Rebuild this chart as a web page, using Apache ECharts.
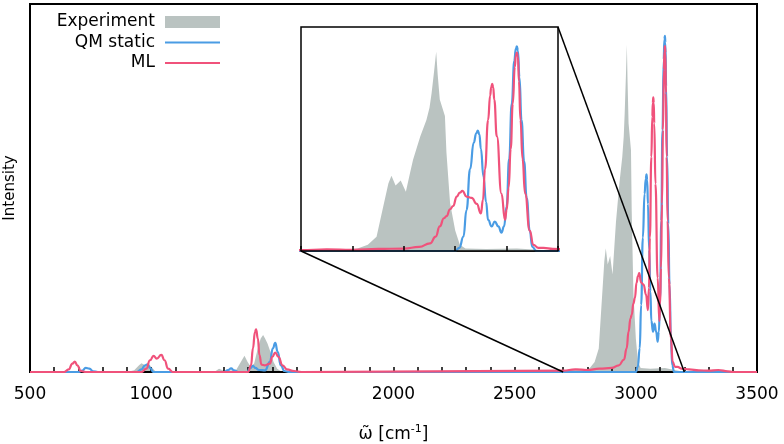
<!DOCTYPE html>
<html>
<head>
<meta charset="utf-8">
<script src="https://cdn.jsdelivr.net/npm/echarts@6/dist/echarts.min.js"></script>
<style>
  html, body { margin: 0; padding: 0; background: #fff; }
  #chart { width: 784px; height: 444px; }
</style>
</head>
<body>
<div id="chart"></div>
<script>
// ===== data (wavenumber / intensity) =====
const expWn = [500, 900, 930, 950, 960, 975, 990, 1005, 1020, 1260, 1280, 1300, 1350, 1370, 1385, 1398, 1410, 1425, 1440, 1452, 1462, 1470, 1480, 1492, 1505, 1520, 1540,
  2690, 2720, 2760, 2790, 2810, 2830, 2847, 2860, 2870, 2876, 2884, 2894, 2904, 2912, 2918, 2932, 2944, 2950, 2954, 2959, 2963, 2966, 2970, 2980, 2983, 2990, 3000, 3009, 3020, 3060, 3120, 3160, 3200, 3500]
const expI = [0, 0, 0.005, 0.02, 0.026, 0.02, 0.024, 0.012, 0, 0, 0.01, 0.004, 0.005, 0.03, 0.048, 0.03, 0.016, 0.025, 0.07, 0.1, 0.11, 0.1, 0.085, 0.06, 0.03, 0.01, 0,
  0, 0.006, 0.01, 0.006, 0.012, 0.03, 0.07, 0.217, 0.33, 0.368, 0.32, 0.345, 0.29, 0.38, 0.446, 0.56, 0.64, 0.7, 0.77, 0.88, 0.974, 0.86, 0.74, 0.66, 0.48, 0.235, 0.1, 0.03, 0.012, 0.01, 0.012, 0.006, 0, 0]

const qmWn = [500, 700, 715, 730, 745, 760, 780, 940, 960, 975, 985, 995, 1010, 1300, 1318, 1330, 1342, 1360, 1395, 1410, 1420, 1430, 1445, 1470, 1490, 1502, 1512, 1522, 1535, 1550, 1570,
  3000, 3008, 3016, 3022, 3029, 3036, 3041, 3044, 3047, 3050, 3055, 3060, 3064, 3071, 3077, 3084, 3090, 3095, 3100, 3105, 3110, 3115, 3118, 3120, 3122, 3125, 3129, 3134, 3139, 3145, 3150, 3158, 3500]
const qmI = [0, 0, 0.004, 0.012, 0.01, 0.002, 0, 0, 0.008, 0.02, 0.023, 0.012, 0, 0, 0.006, 0.011, 0.005, 0, 0, 0.012, 0.018, 0.012, 0.006, 0.005, 0.03, 0.07, 0.087, 0.06, 0.02, 0.003, 0,
  0, 0.015, 0.07, 0.2, 0.4, 0.53, 0.575, 0.588, 0.57, 0.5, 0.364, 0.24, 0.152, 0.12, 0.144, 0.12, 0.09, 0.12, 0.217, 0.45, 0.72, 0.93, 0.99, 1.0, 0.98, 0.85, 0.64, 0.44, 0.26, 0.1, 0.02, 0, 0]

const mlWn = [500, 640, 660, 675, 685, 695, 710, 730, 960, 980, 995, 1010, 1023, 1042, 1055, 1070, 1090, 1400, 1412, 1420, 1428, 1433, 1440, 1447, 1455, 1470, 1490, 1500, 1512, 1525, 1542, 1560, 1590, 1620,
  2700, 2750, 2800, 2850, 2900, 2930, 2951, 2962, 2970, 2978, 2983, 2990, 2996, 3003, 3009, 3014, 3022, 3032, 3042, 3050, 3054, 3058, 3064, 3068, 3070, 3072, 3074, 3076, 3081, 3090, 3097, 3100, 3104, 3108, 3112, 3116, 3118, 3120, 3122, 3124, 3127, 3131, 3136, 3145, 3152, 3162, 3172, 3190, 3220, 3260, 3300, 3340, 3380, 3400, 3500]
const mlI = [0, 0, 0.008, 0.025, 0.031, 0.02, 0.003, 0, 0, 0.01, 0.035, 0.048, 0.04, 0.051, 0.035, 0.01, 0, 0, 0.02, 0.07, 0.118, 0.127, 0.1, 0.05, 0.022, 0.02, 0.025, 0.045, 0.058, 0.045, 0.02, 0.008, 0.003, 0,
  0.004, 0.008, 0.006, 0.01, 0.012, 0.02, 0.037, 0.07, 0.12, 0.16, 0.17, 0.204, 0.22, 0.266, 0.285, 0.294, 0.266, 0.26, 0.23, 0.184, 0.25, 0.4, 0.64, 0.76, 0.8, 0.817, 0.8, 0.74, 0.56, 0.28, 0.152, 0.2, 0.31, 0.5, 0.72, 0.9, 0.955, 0.97, 0.95, 0.83, 0.64, 0.45, 0.28, 0.1, 0.03, 0.015, 0.015, 0.01, 0.008, 0.005, 0.004, 0.006, 0.002, 0, 0]

const seriesNames = ['Experiment', 'QM static', 'ML']
const xTicks = [500, 3500, 500]      // min, max, step of main axis
const insetTicks = [2700, 3200, 100] // min, max, step of inset axis

const GRAY = '#bac3c1'
const BLUE = '#4a9ce4'
const RED = '#f0527b'
const FONT = 'DejaVu Sans'

const pairs = (xs, ys) => xs.map((x, i) => [x, ys[i]])

// inset box in pixels
const inset = { left: 301, top: 27, width: 257, height: 224 }

const chart = echarts.init(document.getElementById('chart'))

function makeSeries(idx) {
  return [
    {
      name: seriesNames[0], type: 'line', xAxisIndex: idx, yAxisIndex: idx,
      data: pairs(expWn, expI), showSymbol: false, symbol: 'none',
      lineStyle: { width: 0, color: GRAY }, itemStyle: { color: GRAY },
      areaStyle: { color: GRAY, opacity: 1 }, z: 2 + idx * 10,
    },
    {
      name: seriesNames[1], type: 'line', xAxisIndex: idx, yAxisIndex: idx,
      data: pairs(qmWn, qmI), showSymbol: false, symbol: 'none', smooth: 0.5, smoothMonotone: 'x',
      lineStyle: { width: 2.2, color: BLUE }, itemStyle: { color: BLUE }, z: 3 + idx * 10,
    },
    {
      name: seriesNames[2], type: 'line', xAxisIndex: idx, yAxisIndex: idx,
      data: pairs(mlWn, mlI), showSymbol: false, symbol: 'none', smooth: 0.5, smoothMonotone: 'x',
      lineStyle: { width: 2.2, color: RED }, itemStyle: { color: RED }, z: 4 + idx * 10,
    },
  ]
}

const option = {
  animation: false,
  backgroundColor: '#fff',
  textStyle: { fontFamily: FONT },
  grid: [
    { left: 30, right: 27, top: 4, bottom: 72, containLabel: false, outerBoundsMode: 'none',
      show: true, borderColor: '#000', borderWidth: 2, backgroundColor: 'transparent' },
    { left: inset.left, top: inset.top, width: inset.width, height: inset.height, containLabel: false, outerBoundsMode: 'none',
      show: true, borderColor: '#000', borderWidth: 1.5, backgroundColor: '#fff', z: 5 },
  ],
  xAxis: [
    {
      type: 'value', gridIndex: 0, min: xTicks[0], max: xTicks[1], interval: xTicks[2],
      axisLine: { show: true, onZero: false, lineStyle: { color: '#000', width: 2 } },
      axisTick: { show: true, inside: true, length: 5, lineStyle: { color: '#000', width: 1.5 } },
      minorTick: { show: true, splitNumber: 5, length: 5, lineStyle: { color: '#000', width: 1.5 } },
      splitLine: { show: false },
      axisLabel: { color: '#000', fontSize: 17, fontFamily: FONT, margin: 14, formatter: (v) => String(v) },
      name: 'ω̃ [cm{sup|-1}]', nameLocation: 'middle', nameGap: 52,
      nameTextStyle: {
        color: '#000', fontSize: 17, fontFamily: FONT, lineHeight: 22,
        rich: { sup: { fontSize: 11, verticalAlign: 'top', fontFamily: FONT, color: '#000', lineHeight: 22 } },
      },
      z: 3,
    },
    {
      type: 'value', gridIndex: 1, min: insetTicks[0], max: insetTicks[1], interval: insetTicks[2],
      axisLine: { show: true, onZero: false, lineStyle: { color: '#000', width: 1.5 } },
      axisTick: { show: true, inside: true, length: 5, lineStyle: { color: '#000', width: 1.5 } },
      splitLine: { show: false },
      axisLabel: { show: false },
      z: 30,
    },
  ],
  yAxis: [
    {
      type: 'value', gridIndex: 0, min: 0, max: 1.095,
      axisLine: { show: false }, axisTick: { show: false }, axisLabel: { show: false }, splitLine: { show: false },
      name: 'Intensity', nameLocation: 'middle', nameGap: 12,
      nameTextStyle: { color: '#000', fontSize: 15, fontFamily: FONT },
    },
    {
      type: 'value', gridIndex: 1, min: 0, max: 1.095,
      axisLine: { show: false }, axisTick: { show: false }, axisLabel: { show: false }, splitLine: { show: false },
    },
  ],
  series: [...makeSeries(0), ...makeSeries(1)],
}

chart.setOption(option)

// ===== zoom connectors + legend as graphics =====
const pLeft = chart.convertToPixel({ xAxisIndex: 0, yAxisIndex: 0 }, [insetTicks[0], 0])
const pRight = chart.convertToPixel({ xAxisIndex: 0, yAxisIndex: 0 }, [insetTicks[1], 0])
const legendRows = [
  { name: seriesNames[0], kind: 'rect', color: GRAY },
  { name: seriesNames[1], kind: 'line', color: BLUE },
  { name: seriesNames[2], kind: 'line', color: RED },
]
const graphics = [
  { type: 'line', z: 100, shape: { x1: inset.left, y1: inset.top + inset.height, x2: pLeft[0], y2: pLeft[1] }, style: { stroke: '#000', lineWidth: 1.5 } },
  { type: 'line', z: 100, shape: { x1: inset.left + inset.width, y1: inset.top, x2: pRight[0], y2: pRight[1] }, style: { stroke: '#000', lineWidth: 1.5 } },
]
legendRows.forEach((row, i) => {
  const cy = 22 + i * 20.5
  graphics.push({
    type: 'text', z: 100, x: 155, y: cy,
    style: { text: row.name, fill: '#000', font: '17px "DejaVu Sans"', align: 'right', verticalAlign: 'middle' },
  })
  if (row.kind === 'rect') {
    graphics.push({ type: 'rect', z: 100, shape: { x: 165, y: cy - 6, width: 55, height: 12 }, style: { fill: row.color } })
  } else {
    graphics.push({ type: 'line', z: 100, shape: { x1: 165, y1: cy, x2: 220, y2: cy }, style: { stroke: row.color, lineWidth: 2.2 } })
  }
})
chart.setOption({ graphic: graphics })
</script>
</body>
</html>
